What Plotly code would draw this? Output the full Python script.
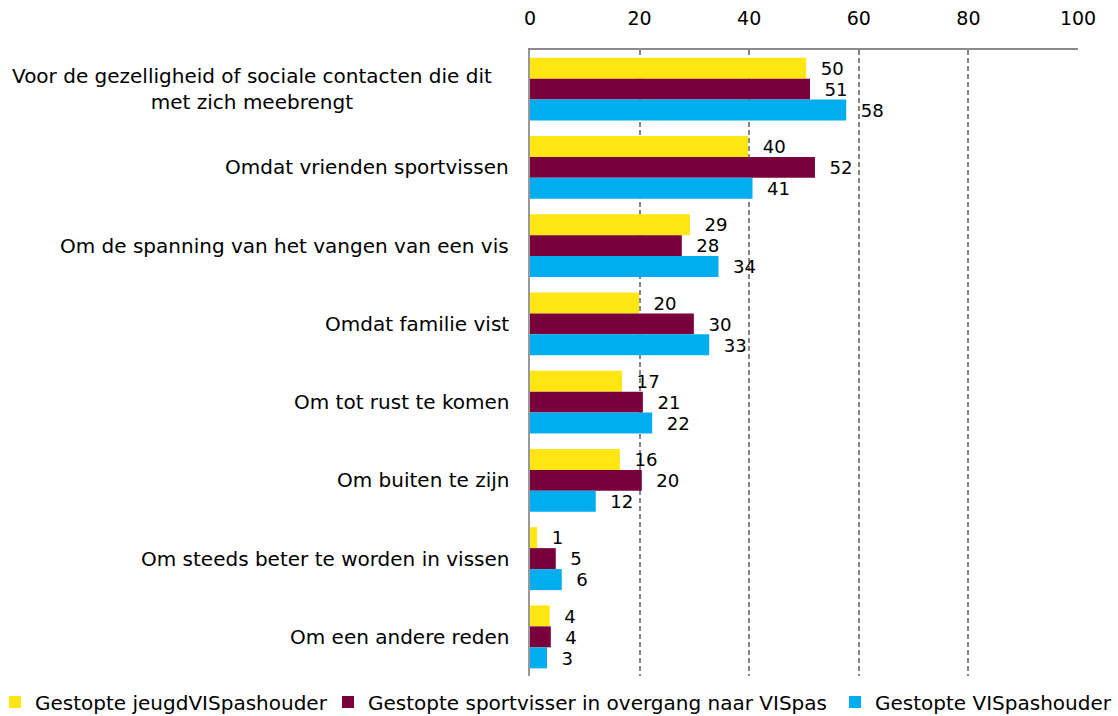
import plotly.graph_objects as go

categories = [
    "Voor de gezelligheid of sociale contacten die dit<br>met zich meebrengt",
    "Omdat vrienden sportvissen",
    "Om de spanning van het vangen van een vis",
    "Omdat familie vist",
    "Om tot rust te komen",
    "Om buiten te zijn",
    "Om steeds beter te worden in vissen",
    "Om een andere reden",
]
jeugd = [50.4, 39.8, 29.2, 19.9, 16.8, 16.4, 1.3, 3.6]
overgang = [51.1, 52.0, 27.7, 29.9, 20.6, 20.4, 4.7, 3.8]
vispas = [57.7, 40.6, 34.4, 32.7, 22.3, 12.0, 5.8, 3.1]
series_names = ["Gestopte jeugdVISpashouder",
                "Gestopte sportvisser in overgang naar VISpas",
                "Gestopte VISpashouder"]
colors = ["#FFE512", "#7A003C", "#00AEEF"]
legend_ids = ["legend", "legend2", "legend3"]

FONT = "DejaVu Sans"

fig = go.Figure()
for name, vals, col, lg in zip(series_names, [jeugd, overgang, vispas], colors, legend_ids):
    fig.add_trace(go.Bar(
        y=categories, x=vals, name=name, orientation="h",
        marker=dict(color=col, line=dict(width=0)),
        texttemplate="  %{x:.0f}", textposition="outside",
        textfont=dict(size=19, color="black", family=FONT), cliponaxis=False,
        legend=lg,
    ))

# category labels (centered multi-line, right-anchored next to axis)
for cat in categories:
    fig.add_annotation(x=0, xref="paper", y=cat, yref="y", text=cat,
                       showarrow=False, xanchor="right", align="center",
                       xshift=-36 if "<br>" in cat else -19,
                       font=dict(size=20, family=FONT, color="black"))

W, L, PW = 1118, 530, 548
PT, PH = 50, 626

def lx(px):
    return (px - L) / PW

leg_y = (PT + PH - 702) / PH
leg_common = dict(orientation="h", xanchor="left", yanchor="middle", y=leg_y,
                  font=dict(size=20, family=FONT, color="black"),
                  itemwidth=30, bgcolor="rgba(0,0,0,0)", borderwidth=0)

fig.update_layout(
    barmode="group", bargap=0.195, bargroupgap=0,
    width=W, height=716,
    margin=dict(l=L, r=W - L - PW, t=PT, b=716 - PT - PH, autoexpand=False),
    plot_bgcolor="white", paper_bgcolor="white",
    font=dict(family=FONT, size=19, color="black"),
    showlegend=True,
    legend=dict(x=lx(35 - 40), **leg_common),
    legend2=dict(x=lx(368 - 40), **leg_common),
    legend3=dict(x=lx(875 - 40), **leg_common),
)
fig.update_xaxes(side="top", range=[0, 100], dtick=20,
                 showgrid=True, gridcolor="#858585", griddash="5px,3px", gridwidth=2,
                 showline=True, linecolor="#8a8a8a", linewidth=2,
                 zeroline=False, ticks="", ticklabelstandoff=15,
                 tickfont=dict(size=19, family=FONT))
fig.update_yaxes(autorange="reversed", showline=True, linecolor="#999999", linewidth=2,
                 ticks="", showticklabels=False, showgrid=False)
fig.write_html("out.html", config={"displayModeBar": False},
               post_script="document.body.style.margin='0';document.body.style.overflow='hidden';")
